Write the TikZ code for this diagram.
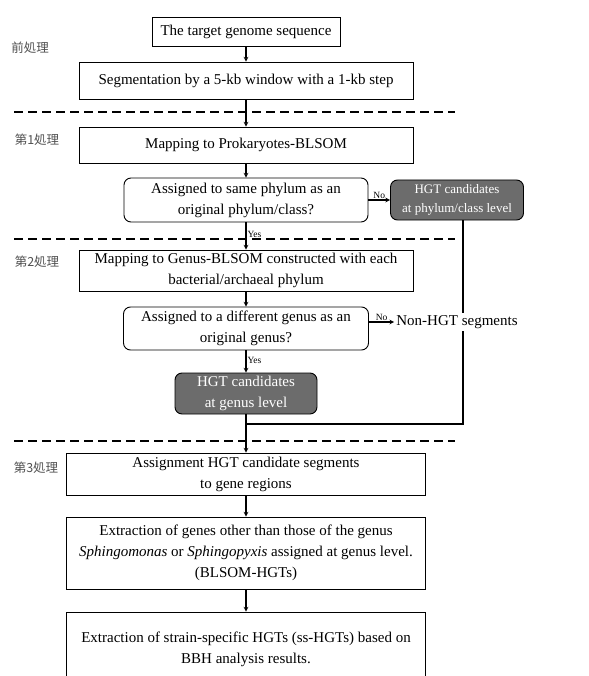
\documentclass[tikz,border=0pt]{standalone}
\usepackage{fontspec}
\setmainfont{Liberation Serif}
\newfontfamily\jpfont{Noto Sans CJK JP}
\usepackage{tikz}
\usetikzlibrary{arrows}

\definecolor{hgtgray}{RGB}{108,108,108}
\definecolor{stagegray}{RGB}{80,80,80}

\tikzset{
  procbox/.style={draw,line width=0.9pt,inner sep=0pt,align=center,
    font=\fontsize{15}{21}\selectfont},
  askbox/.style={procbox,rounded corners=7pt},
  hgtbox/.style={askbox,fill=hgtgray,text=white},
  stagelabel/.style={text=stagegray,font=\jpfont\fontsize{12.5}{15}\selectfont},
  flow/.style={->,>=stealth,line width=1.1pt},
  tag/.style={font=\fontsize{9.5}{11}\selectfont,inner sep=1pt},
  sep/.style={line width=1.1pt,dash pattern=on 9pt off 5pt}
}

\begin{document}
\begin{tikzpicture}[x=1pt,y=-1pt]
  \useasboundingbox (0,0) rectangle (588,676);
  % stage labels
  \node[stagelabel] (st0) at (30,48) {前処理};
  \node[stagelabel] (st1) at (37,140) {第1処理};
  \node[stagelabel] (st2) at (37,262) {第2処理};
  \node[stagelabel] (st3) at (36,468) {第3処理};
  % separators
  \draw[sep] (14,112) -- (455,112);
  \draw[sep] (14,239) -- (455,239);
  \draw[sep] (14,441) -- (455,441);
  % boxes
  \node[procbox,minimum width=188pt,minimum height=29pt] (seq) at (246,31.5)
    {The target genome sequence};
  \node[procbox,minimum width=334pt,minimum height=37pt] (seg) at (246,80.5)
    {Segmentation by a 5-kb window with a 1-kb step};
  \node[procbox,minimum width=334pt,minimum height=36pt] (mapP) at (246,145)
    {Mapping to Prokaryotes-BLSOM};
  \node[askbox,minimum width=244pt,minimum height=44pt] (askP) at (246,200)
    {Assigned to same phylum as an\\original phylum/class?};
  \node[hgtbox,minimum width=133pt,minimum height=40pt,
    font=\fontsize{13}{19}\selectfont] (hgtP) at (457,200)
    {HGT candidates\\at phylum/class level};
  \node[procbox,minimum width=334pt,minimum height=41pt] (mapG) at (246,270.5)
    {Mapping to Genus-BLSOM constructed with each\\bacterial/archaeal phylum};
  \node[askbox,minimum width=245pt,minimum height=43pt] (askG) at (246,328.5)
    {Assigned to a different genus as an\\original genus?};
  \node[hgtbox,minimum width=142pt,minimum height=41pt] (hgtG) at (246,393.5)
    {HGT candidates\\at genus level};
  \node[procbox,minimum width=359pt,minimum height=42pt] (assign) at (246,474)
    {Assignment HGT candidate segments\\to gene regions};
  \node[procbox,minimum width=359pt,minimum height=72pt] (blsom) at (246,553)
    {Extraction of genes other than those of the genus\\
     \textit{Sphingomonas} or \textit{Sphingopyxis} assigned at genus level.\\
     (BLSOM-HGTs)};
  \node[procbox,minimum width=359pt,minimum height=74pt] (sshgt) at (246,649)
    {Extraction of strain-specific HGTs (ss-HGTs) based on\\BBH analysis results.};
  % merge line
  \coordinate (turn) at (463,424);
  \draw[line width=1.1pt] (hgtP.south -| turn) -- (turn) -- (hgtG.south |- turn);
  \node[font=\fontsize{15}{21}\selectfont,fill=white,inner sep=2pt] (nonhgt)
    at (457,322) {Non-HGT segments};
  % flow
  \draw[flow] (seq) -- (seg);
  \draw[flow] (seg) -- (mapP);
  \draw[flow] (mapP) -- (askP);
  \draw[flow] (askP) -- node[tag,above] {No} (hgtP);
  \draw[flow] (askP) -- node[tag,right,pos=0.45] {Yes} (mapG);
  \draw[flow] (mapG) -- (askG);
  \draw[flow] (askG.east |- nonhgt) -- node[tag,above] {No} (nonhgt);
  \draw[flow] (askG) -- node[tag,right,pos=0.45] {Yes} (hgtG);
  \draw[flow] (hgtG) -- (assign);
  \draw[flow] (assign) -- (blsom);
  \draw[flow] (blsom) -- (sshgt);
\end{tikzpicture}
\end{document}
